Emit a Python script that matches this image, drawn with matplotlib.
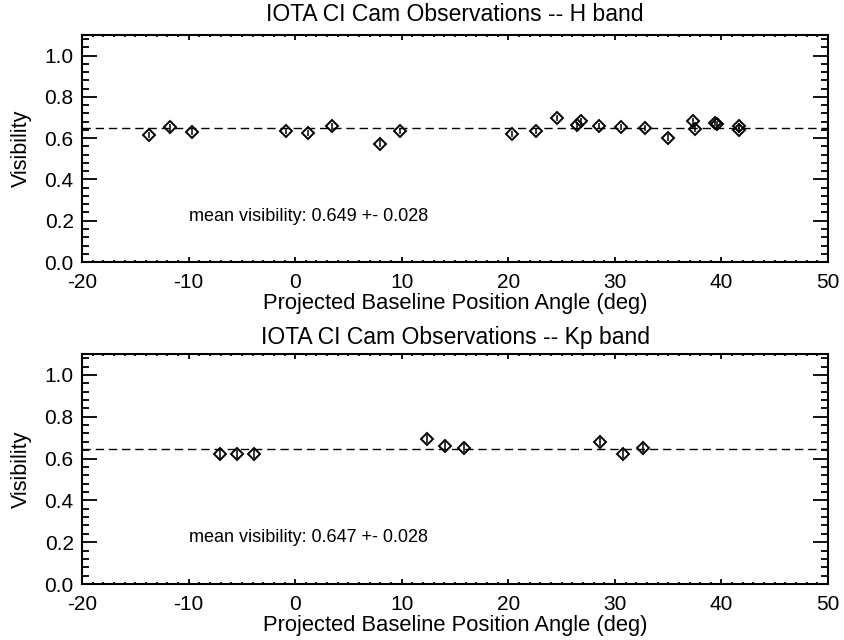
import matplotlib
matplotlib.use("Agg")
import matplotlib.pyplot as plt
from matplotlib.ticker import MultipleLocator, FormatStrFormatter

plt.rcParams['font.family'] = ['Liberation Sans', 'DejaVu Sans']
plt.rcParams['font.size'] = 15
plt.rcParams['axes.unicode_minus'] = False

# --- data ---
h_angle = [-13.7, -11.75, -9.7, -0.86, 1.17, 3.5, 8.0, 9.8, 20.37, 22.56, 24.6,
           26.4, 26.84, 28.5, 30.56, 32.8, 35.0, 37.35, 37.56, 39.35, 39.6, 41.6, 41.66]
h_vis = [0.617, 0.652, 0.632, 0.636, 0.625, 0.657, 0.574, 0.636, 0.619, 0.633, 0.699,
         0.664, 0.681, 0.659, 0.655, 0.651, 0.603, 0.684, 0.643, 0.673, 0.670, 0.660, 0.641]
h_err = [0.015] * len(h_angle)
h_mean, h_sig = 0.649, 0.028

kp_angle = [-7.05, -5.46, -3.9, 12.35, 14.09, 15.82, 28.6, 30.73, 32.67]
kp_vis = [0.620, 0.620, 0.622, 0.692, 0.659, 0.651, 0.679, 0.622, 0.650]
kp_err = [0.02] * len(kp_angle)
kp_mean, kp_sig = 0.647, 0.028

XMIN, XMAX = -20, 50
YMIN, YMAX = 0.0, 1.1


def panel(ax, ang, vis, err, mean, sig, band, title_pad):
    ax.errorbar(ang, vis, yerr=err, fmt='D', ms=5.8, mfc='none', mec='black',
                mew=1.4, ecolor='black', elinewidth=1.1, capsize=0, zorder=3)
    ax.axhline(mean, color='black', lw=1.0, dashes=(6, 3.5))
    ax.text(-10, 0.2, f"mean visibility: {mean:.3f} +- {sig:.3f}", fontsize=13)
    ax.set_xlim(XMIN, XMAX)
    ax.set_ylim(YMIN, YMAX)
    ax.set_title(f"IOTA CI Cam Observations -- {band} band", fontsize=16.5, pad=title_pad)
    ax.set_xlabel("Projected Baseline Position Angle (deg)", fontsize=15.8)
    ax.set_ylabel("Visibility", fontsize=15.5)
    ax.xaxis.set_label_coords(0.5, -0.205)
    ax.xaxis.label.set_va('baseline')
    ax.yaxis.set_label_coords(-0.081, 0.5)
    ax.yaxis.label.set_va('center')
    ax.xaxis.set_major_locator(MultipleLocator(10))
    ax.xaxis.set_minor_locator(MultipleLocator(1))
    ax.yaxis.set_major_locator(MultipleLocator(0.2))
    ax.yaxis.set_minor_locator(MultipleLocator(0.04))
    ax.yaxis.set_major_formatter(FormatStrFormatter('%.1f'))
    ax.tick_params(which='both', direction='in', top=True, right=True, width=1.3)
    ax.tick_params(axis='x', which='major', length=3.3, pad=8)
    ax.tick_params(axis='x', which='minor', length=1.6)
    ax.tick_params(axis='y', which='major', length=10.5, pad=6)
    ax.tick_params(axis='y', which='minor', length=5.3)
    for sp in ax.spines.values():
        sp.set_linewidth(1.5)


fig = plt.figure(figsize=(8.44, 6.4), dpi=100)
ax1 = fig.add_axes([0.0972, 0.5906, 0.8839, 0.3547])
ax2 = fig.add_axes([0.0972, 0.0875, 0.8839, 0.3594])

panel(ax1, h_angle, h_vis, h_err, h_mean, h_sig, "H", 10)
panel(ax2, kp_angle, kp_vis, kp_err, kp_mean, kp_sig, "Kp", 7)

fig.savefig("out.png", dpi=100, facecolor='white')
